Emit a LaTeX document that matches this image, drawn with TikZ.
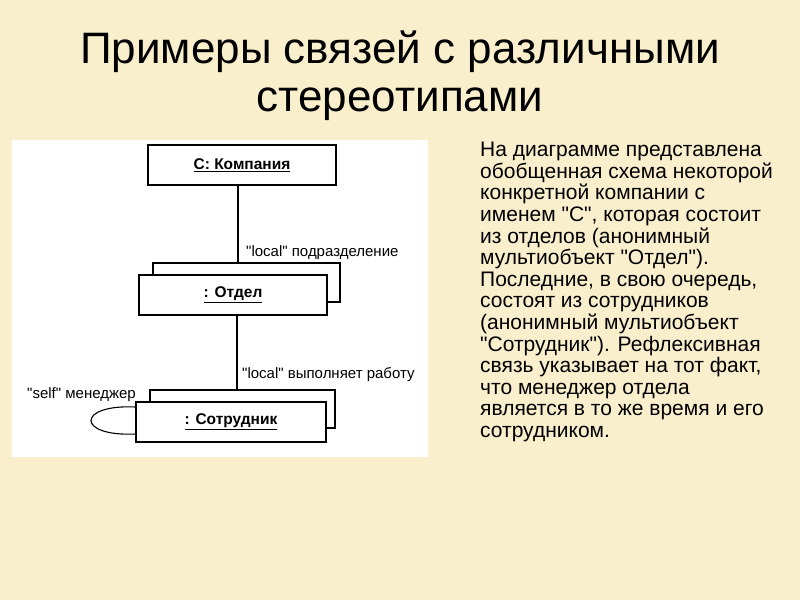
\documentclass[tikz,border=0pt]{standalone}
\usepackage{fontspec}
\setmainfont{Liberation Sans}
\newfontfamily\plainqf{Liberation Sans}
\definecolor{parch}{RGB}{250,239,204}
\newcommand{\qq}{{\plainqf\char34}}
\tikzset{
 obj/.style={draw,line width=1.1pt,fill=white,inner sep=0pt},
 lbl/.style={font=\fontsize{15}{16}\selectfont,anchor=west,inner sep=0pt},
 conn/.style={line width=1.1pt}
}
\begin{document}
\begin{tikzpicture}[x=1pt,y=-1pt]
\fill[parch] (0,0) rectangle (800,600);
\useasboundingbox (0,0) rectangle (800,600);
\node[font=\fontsize{44}{48}\selectfont,align=center] (title) at (400,76) {Примеры связей с различными\\стереотипами};
\fill[white] (12,140) rectangle (428,457);
% company
\node[obj,minimum width=188,minimum height=40] (comp) at (242,165) {\fontsize{15.5}{17}\selectfont\bfseries\underline{C: Компания}};
% Otdel
\node[obj,minimum width=187,minimum height=39] (otdb) at (246.5,282.5) {};
\node[obj,minimum width=188,minimum height=40] (otd) at (233,295) {\fontsize{15.5}{17}\selectfont\bfseries\underline{: Отдел}};
% Sotrudnik
\node[obj,minimum width=185,minimum height=38] (sotb) at (242.5,409) {};
\node[obj,minimum width=190,minimum height=40] (sot) at (231,422) {\fontsize{15.5}{17}\selectfont\bfseries\underline{: Сотрудник}};
\coordinate (c1) at (238,185);
\coordinate (c2) at (238,263);
\draw[conn] (c1) -- (c2);
\coordinate (d1) at (237,315);
\coordinate (d2) at (237,390);
\draw[conn] (d1) -- (d2);
\coordinate (l1) at (136,407);
\coordinate (l2) at (136,434);
\draw[conn] (l1) .. controls (76,404) and (76,437) .. (l2);
\node[lbl] (t1) at (246,253) {\qq local\qq{} подразделение};
\node[lbl] (t2) at (242,375) {\qq local\qq{} выполняет работу};
\node[lbl] (t3) at (27,395) {\qq self\qq{} менеджер};
\node[font=\fontsize{21}{21.6}\selectfont,align=left,anchor=north west,inner sep=0pt] (body) at (480,142) {На диаграмме представлена\\обобщенная схема некоторой\\конкретной компании с\\именем \qq C\qq, которая состоит\\из отделов (анонимный\\мультиобъект \qq Отдел\qq).\\Последние, в свою очередь,\\состоят из сотрудников\\(анонимный мультиобъект\\\qq Сотрудник\qq). Рефлексивная\\связь указывает на тот факт,\\что менеджер отдела\\является в то же время и его\\сотрудником.};
\end{tikzpicture}
\end{document}
